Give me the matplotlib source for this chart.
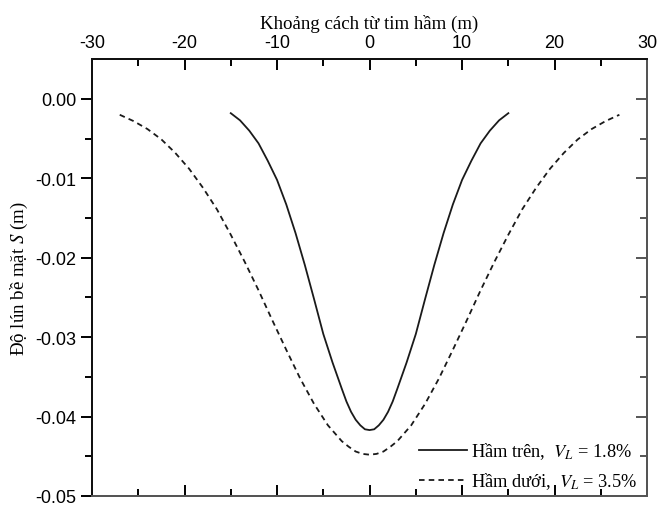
"""Surface settlement troughs above the upper and lower tunnels."""

import matplotlib.pyplot as plt

plt.rcParams["mathtext.fontset"] = "stix"
plt.rcParams["lines.scale_dashes"] = False

# distance from tunnel axis (m) and surface settlement S (m)
x_upper = [-15, -14, -13, -12, -11, -10, -9, -8, -7, -6, -5, -4, -3, -2.5, -2, -1.5,
           -1, -0.5, 0, 0.5, 1, 1.5, 2, 2.5, 3, 4, 5, 6, 7, 8, 9, 10, 11, 12, 13,
           14, 15]
s_upper = [-0.0018, -0.0027, -0.0040, -0.0056, -0.0078, -0.0102, -0.0133, -0.0169,
           -0.0209, -0.0252, -0.0296, -0.0332, -0.0365, -0.0381, -0.0394, -0.0404,
           -0.0411, -0.0416, -0.0417, -0.0416, -0.0411, -0.0404, -0.0394, -0.0381,
           -0.0365, -0.0332, -0.0296, -0.0252, -0.0209, -0.0169, -0.0133, -0.0102,
           -0.0078, -0.0056, -0.0040, -0.0027, -0.0018]

x_lower = [-27, -25.5, -24, -22.5, -21, -19.5, -18, -16.5, -15, -13.5, -12, -10.5,
           -9, -7.5, -6, -4.5, -3, -2.25, -1.5, -0.75, 0, 0.75, 1.5, 2.25, 3, 4.5, 6,
           7.5, 9, 10.5, 12, 13.5, 15, 16.5, 18, 19.5, 21, 22.5, 24, 25.5, 27]
s_lower = [-0.0020, -0.0028, -0.0038, -0.0051, -0.0068, -0.0088, -0.0112, -0.0139,
           -0.0171, -0.0205, -0.0241, -0.0279, -0.0316, -0.0352, -0.0384, -0.0411,
           -0.0431, -0.0438, -0.0444, -0.0447, -0.0448, -0.0447, -0.0444, -0.0438,
           -0.0431, -0.0411, -0.0384, -0.0352, -0.0316, -0.0279, -0.0241, -0.0205,
           -0.0171, -0.0139, -0.0112, -0.0088, -0.0068, -0.0051, -0.0038, -0.0028,
           -0.0020]

x_ticks = [-30, -20, -10, 0, 10, 20, 30]
y_ticks = [0.00, -0.01, -0.02, -0.03, -0.04, -0.05]

SERIF = "Liberation Serif"
SANS = "Liberation Sans"

fig = plt.figure(figsize=(6.57, 5.10), dpi=100)
ax = fig.add_axes([0.140, 0.0255, 0.845, 0.8565])

ax.plot(x_upper, s_upper, color="#1a1a1a", lw=1.3, solid_joinstyle="round",
        label=r"Hầm trên,  $V_L$ = 1.8%")
ax.plot(x_lower, s_lower, color="#1a1a1a", lw=1.3, ls=(0, (4, 3)),
        label=r"Hầm dưới,  $V_L$ = 3.5%")

ax.set_xlim(-30, 30)
ax.set_ylim(-0.05, 0.005)
ax.set_xticks(x_ticks)
ax.set_xticks(range(-25, 30, 10), minor=True)
ax.set_yticks(y_ticks)
ax.set_yticks([-0.005, -0.015, -0.025, -0.035, -0.045], minor=True)
ax.set_xticklabels([f"{v}" for v in x_ticks], fontfamily=SANS, fontsize=13)
ax.set_yticklabels([f"{v:.2f}" for v in y_ticks], fontfamily=SANS, fontsize=13)

ax.xaxis.set_label_position("top")
ax.tick_params(axis="x", which="both", direction="in", top=True, bottom=True,
               labeltop=True, labelbottom=False, width=1.4, pad=6)
ax.tick_params(axis="x", which="major", length=8)
ax.tick_params(axis="x", which="minor", length=5)
ax.tick_params(axis="y", which="both", direction="out", left=True, right=False, width=1.4)
ax.tick_params(axis="y", which="major", length=8, pad=3)
ax.tick_params(axis="y", which="minor", length=5)

# right-hand ticks point inward, so they live on a twin axis
axr = ax.twinx()
axr.set_ylim(ax.get_ylim())
axr.set_yticks(y_ticks)
axr.set_yticks([-0.005, -0.015, -0.025, -0.035, -0.045], minor=True)
axr.tick_params(axis="y", which="both", direction="in", labelright=False,
                width=1.4, color="#555555")
axr.tick_params(axis="y", which="major", length=8)
axr.tick_params(axis="y", which="minor", length=5)

for a in (ax, axr):
    for side, sp in a.spines.items():
        sp.set_linewidth(1.4)
        sp.set_color("#111111" if side in ("left", "top") else "#555555")

ax.set_xlabel("Khoảng cách từ tim hầm (m)", fontfamily=SERIF, fontsize=13.6, labelpad=4)
ax.set_ylabel(r"Độ lún bề mặt $S$ (m)", fontfamily=SERIF, fontsize=13.6, labelpad=4)

ax.legend(loc="lower right", frameon=False, prop={"family": SERIF, "size": 13.2},
          handlelength=2.6, handletextpad=0.2, labelspacing=0.5,
          borderaxespad=0.0, bbox_to_anchor=(0.995, -0.005))

fig.savefig("out.png", dpi=100)
